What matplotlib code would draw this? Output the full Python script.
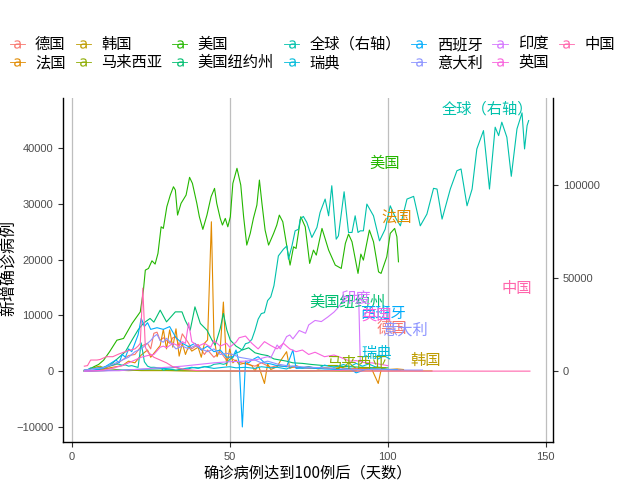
import matplotlib
matplotlib.use('Agg')
import matplotlib.pyplot as plt
from matplotlib.lines import Line2D

plt.rcParams['font.family'] = ['Noto Sans CJK SC', 'DejaVu Sans']

# ---------------- data ----------------
countries = ['德国', '法国', '韩国', '马来西亚', '美国', '美国纽约州', '全球（右轴）',
             '瑞典', '西班牙', '意大利', '印度', '英国', '中国']
colors = ['#F8766D', '#E18A00', '#BE9C00', '#8CAB00', '#24B700', '#00BE70', '#00C1AB',
          '#00BBDA', '#00ACFC', '#8B93FF', '#D575FE', '#F962DD', '#FF65AC']

# (day since 100th case, new cases)
germany = [(4, 30), (6, 60), (8, 100), (10, 300), (12, 900), (14, 1200), (16, 2000), (18, 2800),
           (20, 3000), (22, 4500), (24, 5000), (25, 4000), (26, 6800), (27, 7000), (28, 5500),
           (29, 6000), (31, 5000), (32, 6000), (33, 6200), (34, 4500), (35, 6700), (37, 5000),
           (38, 4000), (40, 4800), (42, 3000), (43, 3800), (45, 2500), (47, 3500), (49, 2000),
           (50, 2500), (52, 1800), (55, 1300), (58, 900), (60, 1500), (63, 700), (65, 1000),
           (70, 700), (75, 500), (80, 600), (85, 300), (90, 500), (95, 400), (100, 300), (104, 200)]
france = [(4, 20), (6, 50), (8, 150), (10, 300), (12, 600), (14, 800), (16, 1000), (18, 1800),
          (20, 1500), (22, 2900), (24, 3800), (25, 2500), (27, 3900), (28, 4600), (29, 7500),
          (30, 4000), (31, 7400), (32, 4300), (33, 7600), (34, 2700), (35, 5000), (36, 3000),
          (37, 4500), (38, 3600), (40, 4300), (41, 2500), (42, 5000), (43, 5600), (44.2, 26800),
          (45, 6200), (46, 2600), (47, 4000), (48, 12400), (49, 1000), (50, 4000), (51, 1500),
          (52, 2000), (53, 1200), (55, 1500), (57, 1000), (58, 0), (59, 1200), (61, -2200),
          (62, 1300), (63, 300), (65, 800), (66, 1800), (68, 3500), (69, 500), (71, 1000),
          (73, 600), (75, 800), (78, 400), (80, 600), (83, 500), (85, 700), (88, 400), (90, 300),
          (93, 500), (95, 300), (97, -2200), (98, 500), (100, 300), (103, 400), (105, 300)]
korea = [(4, 100), (5, 250), (6, 450), (7, 600), (8, 800), (9, 900), (10, 600), (11, 500),
         (12, 450), (13, 400), (14, 300), (15, 250), (16, 150), (18, 100), (20, 150), (22, 100),
         (25, 100), (30, 100), (35, 50), (40, 30), (50, 10), (60, 10), (70, 20), (80, 40),
         (90, 40), (95, 50), (100, 40), (105, 50), (110, 40), (114, 40)]
malaysia = [(4, 10), (8, 50), (10, 100), (12, 150), (15, 120), (18, 150), (20, 200), (22, 150),
            (25, 200), (28, 170), (30, 150), (35, 100), (40, 60), (45, 50), (50, 40), (55, 50),
            (60, 30), (65, 40), (70, 60), (75, 50), (80, 100), (85, 50), (90, 30)]
usa = [(4, 100), (5.5, 300), (6.9, 770), (8.5, 1200), (10.1, 1970), (12, 3500), (14.3, 5560),
       (16.4, 5870), (19.1, 8560), (21.7, 10640), (22.7, 14540), (23.3, 18130), (24.3, 18430),
       (25.4, 19800), (26.4, 19210), (27.3, 21130), (28.3, 25900), (29.0, 25610), (30.1, 29490),
       (31.2, 31590), (32.2, 33080), (32.8, 32490), (33.5, 28000), (34.6, 30100), (36.2, 31590),
       (37.3, 34770), (38.2, 33690), (39.6, 30100), (40.4, 27700), (41.5, 25440), (42.8, 28000),
       (44.1, 31290), (45.2, 32790), (45.9, 30100), (47.0, 27410), (47.7, 26210), (48.6, 27410),
       (49.4, 25900), (50.2, 27700), (51.0, 33690), (52.3, 36390), (53.5, 33390), (54.4, 27700),
       (55.4, 22620), (56.5, 24720), (57.5, 27410), (58.6, 29800), (59.4, 34280), (60.2, 30100),
       (61.2, 25310), (62.3, 22620), (63.9, 24720), (64.9, 26210), (65.7, 28000), (66.8, 26800),
       (68.1, 22310), (69.1, 19030), (70.2, 22310), (71.0, 22020), (72.5, 27700), (73.9, 25900),
       (75.3, 19330), (76.5, 21720), (77.4, 20820), (79.2, 25610), (81.3, 21720), (83.4, 19030),
       (85.3, 18430), (86.6, 22920), (87.6, 24590), (88.7, 23210), (89.7, 20230), (90.6, 17540),
       (91.5, 21000), (92.3, 19920), (94.2, 25310), (95.5, 23210), (97.1, 17820), (97.9, 17540),
       (99.7, 20520), (100.8, 24720), (102.2, 25610), (102.9, 24110), (103.4, 19620)]
newyork = [(4, 30), (6, 80), (8, 200), (10, 500), (12, 1000), (13, 1500), (15, 2500), (17, 3500),
           (19, 5500), (21, 7400), (22.7, 8600), (24.8, 9460), (26, 8800), (28, 10950), (30, 8850),
           (31.5, 9800), (32.8, 10640), (34.9, 10640), (35.9, 9150), (37.5, 7360), (39, 11540),
           (40.7, 8560), (42.8, 7360), (44.4, 5560), (45.4, 4670), (47, 7660), (48, 10360),
           (49.1, 7360), (50.2, 5560), (52, 4500), (54, 3800), (56, 4200), (58, 3300), (60, 3000),
           (62, 2800), (64, 2200), (66, 2000), (68, 1800), (70, 1500), (73, 1400), (76, 1200),
           (80, 1000), (84, 900), (88, 800), (92, 700), (96, 600), (100, 600)]
world = [(4, 700), (5, 770), (6, 1800), (7, 1500), (8, 1750), (9, 2000), (10, 2100), (11, 2600),
         (12, 2850), (13, 3250), (14, 3900), (15, 3700), (16, 3200), (17, 3400), (18, 2700),
         (19, 3000), (20, 2500), (21, 2050), (22, 15200), (23, 5100), (24, 2700), (25, 2050),
         (26, 2100), (27, 1900), (28, 1800), (29, 550), (30, 1000), (31, 1000), (32, 900),
         (33, 600), (34, 900), (35, 850), (36, 1100), (37, 1300), (38, 1800), (39, 2000),
         (40, 1800), (41, 2100), (42, 2400), (43, 2500), (44, 2800), (45, 3700), (46, 3900),
         (47, 4100), (48, 3700), (49, 4200), (50, 6300), (51, 7400), (52, 10000), (53, 10300),
         (54, 11700), (55, 14800), (56, 15300), (57, 17100), (58, 22000), (59, 28000),
         (60, 31000), (61, 31500), (62, 38000), (63, 40000), (64, 46000), (65.4, 62030),
         (67.0, 65640), (68.1, 67430), (68.6, 60250), (69.7, 67430), (70.7, 75520), (71.8, 76430),
         (72.3, 81820), (73.3, 83280), (74.4, 80050), (76.0, 71960), (77.6, 77350), (78.6, 85440),
         (80.2, 92620), (81.3, 83610), (82.3, 99790), (83.7, 71040), (84.4, 72820), (86.2, 96550),
         (87.6, 74650), (88.7, 74650), (89.7, 83610), (90.6, 74650), (91.3, 75520), (92.3, 75520),
         (93.4, 89920), (95.5, 83610), (97.4, 70120), (99.2, 76430), (100.8, 89000),
         (102.4, 82750), (104.0, 78210), (106.1, 92620), (108.2, 94070), (110.3, 78210),
         (112.4, 84520), (114.5, 98390), (115.6, 98010), (117.2, 81830), (119.8, 98010),
         (121.9, 107880), (123.2, 108800), (125.1, 89000), (126.7, 98010), (128.2, 119590),
         (130.3, 129460), (132.2, 98010), (134.0, 131290), (135.1, 126760), (136.1, 133990),
         (137.7, 125900), (139.1, 104860), (140.9, 130370), (142.5, 139000), (143.3, 119590),
         (144.1, 132150), (144.6, 134850)]
sweden = [(4, 20), (10, 100), (15, 200), (20, 300), (25, 400), (30, 500), (33, 700), (35, 400),
          (38, 700), (40, 500), (42, 800), (45, 500), (48, 700), (50, 800), (52, 600), (55, 700),
          (58, 500), (60, 800), (63, 600), (65, 700), (68, 400), (70, 900), (73, 600), (75, 800),
          (78, 500), (80, 1100), (83, 700), (86, 1200), (88, 800), (90, 1400), (92, 900),
          (94, 1300), (96, 800), (99, 600)]
spain = [(4, 50), (6, 150), (8, 300), (10, 600), (12, 1300), (14, 2000), (15, 1500), (16, 3000),
         (17, 2500), (18, 4000), (19, 3500), (20, 5000), (21, 6500), (22, 9500), (23, 8000),
         (24, 8700), (25, 7500), (27, 7800), (29, 7500), (31, 8000), (32, 7000), (33, 6000),
         (35, 5000), (37, 4400), (39, 5000), (41, 3800), (43, 4500), (45, 3500), (47, 3800),
         (49, 2500), (51, 2600), (52, 3800), (53, 1500), (54, -10000), (55, 1800), (56, 1500),
         (57, 2000), (59, 2600), (61, 1500), (63, 1300), (65, 1000), (68, 800), (70, 3800),
         (71, 500), (75, 600), (80, 400), (85, 300), (88, 500), (90, -300), (93, 300), (95, 400),
         (100, 300), (103, 300)]
italy = [(4, 200), (8, 500), (10, 600), (12, 1000), (14, 1500), (16, 2000), (18, 2500), (20, 3500),
         (22, 4000), (24, 5000), (25, 5500), (26, 6200), (27, 6600), (28, 5500), (29, 5200),
         (30, 5900), (31, 5300), (33, 4000), (35, 4500), (37, 4000), (39, 4600), (41, 4000),
         (43, 3500), (45, 4000), (47, 3000), (49, 3200), (51, 3000), (53, 2500), (55, 2300),
         (58, 2000), (60, 1500), (62, 1800), (65, 1300), (68, 1000), (70, 900), (75, 700),
         (80, 600), (85, 400), (90, 300), (95, 300), (100, 250), (105, 200), (111, 200)]
india = [(4, 0), (10, 50), (15, 100), (20, 300), (25, 500), (30, 700), (35, 900), (40, 1200),
         (45, 1500), (50, 1700), (55, 1800), (58, 2000), (60, 2300), (62, 2600), (63, 2400),
         (65, 4700), (66, 4000), (68, 6200), (69, 6500), (70, 5800), (72, 7300), (74, 6800),
         (75, 8300), (77, 9100), (79, 8900), (81, 9700), (83, 10600), (84, 11200), (86, 12700),
         (88, 13600), (90.8, 13600), (91.3, 2000)]
uk = [(4, 30), (8, 100), (10, 200), (12, 400), (14, 700), (16, 1000), (18, 1500), (20, 2000),
      (22, 2500), (24, 2800), (26, 3000), (28, 4300), (29, 4500), (30, 4200), (32, 5000),
      (34, 4500), (35, 5300), (36, 5000), (37, 8700), (38, 5300), (40, 4500), (42, 5000),
      (44, 4300), (45, 5500), (47, 4500), (49, 5000), (50, 4300), (52, 5200), (53, 6000),
      (55, 6300), (57, 5000), (59, 4000), (61, 5300), (63, 4600), (65, 4000), (67, 5000),
      (69, 4000), (71, 3500), (73, 3800), (75, 3000), (77, 3400), (80, 2600), (83, 2900),
      (85, 2500), (88, 1800), (90, 1900), (93, 1500), (95, 1500), (98, 1200), (100, 1000)]
china = [(4, 900), (5, 1000), (6, 2000), (8, 2000), (9, 2100), (11, 2600), (13, 2600), (15, 3100),
         (17, 3500), (18, 3700), (20, 4000), (21, 4500), (21.7, 5000), (22.5, 14900), (23.3, 4300),
         (24, 3500), (26, 2500), (28, 2000), (30, 1500), (32, 800), (34, 500), (36, 300),
         (38, 200), (40, 100), (43, 50), (50, 40), (60, 30), (70, 40), (80, 60), (85, 100),
         (90, 30), (100, 20), (110, 10), (120, 20), (130, 10), (140, 10), (145, 10)]

series = [germany, france, korea, malaysia, usa, newyork, world,
          sweden, spain, italy, india, uk, china]

# end-of-line labels (day, left-axis value)
label_pos = {'全球（右轴）': (131.4, 47000), '美国': (98.9, 37300), '法国': (102.7, 27600),
             '中国': (140.7, 14900), '美国纽约州': (87.2, 12400), '印度': (89.7, 12900),
             '西班牙': (98.6, 10400), '英国': (96.4, 10100), '德国': (101.4, 7700),
             '意大利': (105.5, 7400), '瑞典': (96.4, 3200), '马来西亚': (90.3, 1400),
             '韩国': (111.9, 2000)}

SEC_FACTOR = 3  # right axis = left axis * 3

# ---------------- plot ----------------
fig = plt.figure(figsize=(6.4, 4.8), dpi=100)
ax = fig.add_axes([63 / 640, 1 - 442 / 480, (553 - 63) / 640, (442 - 98) / 480])

for name, col, s in zip(countries, colors, series):
    d = [p[0] for p in s]
    v = [p[1] for p in s]
    if name == '全球（右轴）':
        v = [x / SEC_FACTOR for x in v]
    ax.plot(d, v, color=col, lw=0.8, zorder=2)

for name, col in zip(countries, colors):
    x, y = label_pos[name]
    ax.text(x, y, name, color=col, fontsize=11, ha='center', va='center', zorder=3)

ax.set_xlim(-2.75, 152.3)
ax.set_ylim(-12700, 49000)
ax.set_xticks([0, 50, 100, 150])
ax.set_yticks([-10000, 0, 10000, 20000, 30000, 40000])
ax.grid(axis='x', color='#BEBEBE', lw=0.9)
ax.grid(axis='y', visible=False)
ax.set_axisbelow(True)
ax.spines['top'].set_visible(False)
ax.spines['right'].set_visible(False)
for sp in ['left', 'bottom']:
    ax.spines[sp].set_linewidth(1.0)
    ax.spines[sp].set_color('black')

ax.tick_params(axis='both', direction='out', length=3.5, width=0.8, colors='#333333',
               labelcolor='#4D4D4D', labelsize=8)
for lab in ax.get_xticklabels() + ax.get_yticklabels():
    lab.set_fontfamily('Liberation Sans')

sec = ax.secondary_yaxis('right', functions=(lambda y: y * SEC_FACTOR, lambda y: y / SEC_FACTOR))
sec.set_yticks([0, 50000, 100000])
sec.spines['right'].set_linewidth(1.0)
sec.tick_params(direction='out', length=3.5, width=0.8, colors='#333333',
                labelcolor='#4D4D4D', labelsize=8)
for lab in sec.get_yticklabels():
    lab.set_fontfamily('Liberation Sans')

ax.set_xlabel('确诊病例达到100例后（天数）', fontsize=11, labelpad=2)
fig.text(9 / 640, 1 - 268 / 480, '新增确诊病例', fontsize=11.5, rotation=90,
         ha='center', va='center')

handles = [Line2D([], [], color=c, lw=0.6, marker=r'$\mathrm{a}$', markersize=6,
                  markeredgewidth=0) for c in colors]
fig.legend(handles, countries, loc='upper left', bbox_to_anchor=(9.5 / 640, 1 - 36 / 480),
           ncol=7, frameon=False, fontsize=11, handlelength=1.0, handletextpad=0.67,
           columnspacing=0.66, labelspacing=0.07, borderpad=0, borderaxespad=0)

fig.savefig('out.png', dpi=100)
